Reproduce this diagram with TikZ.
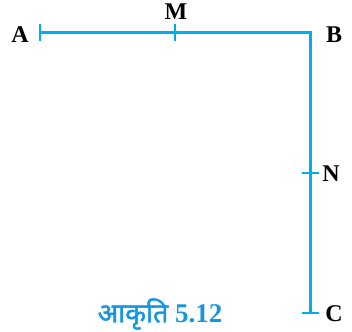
\documentclass[tikz,border=0pt]{standalone}
\usepackage{fontspec}
\setmainfont{Liberation Serif}
\newfontfamily\deva[Script=Devanagari,FakeBold=1.5]{Noto Sans}
\definecolor{lineblue}{RGB}{0,174,239}
\definecolor{capblue}{RGB}{20,150,225}
\begin{document}
\begin{tikzpicture}[x=1pt,y=-1pt,
  seg/.style={draw=lineblue,line width=3pt},
  tk/.style={draw=lineblue,line width=2.8pt},
  lbl/.style={font=\fontsize{24}{24}\selectfont\bfseries,inner sep=0pt}]
\useasboundingbox (0,0) rectangle (352,331);
\coordinate (A) at (40,33);
\coordinate (M) at (175,33);
\coordinate (B) at (310,33);
\coordinate (N) at (310,173);
\coordinate (C) at (310,313);
\draw[seg,line join=miter] (A) -- (B) -- (C);
\draw[tk] ([yshift=-8.5pt]A) -- ([yshift=8.5pt]A);
\draw[tk] ([yshift=-8.5pt]M) -- ([yshift=8.5pt]M);
\draw[tk] ([xshift=-8.5pt]N) -- ([xshift=8.5pt]N);
\draw[tk] ([xshift=-8.5pt]C) -- ([xshift=8.5pt]C);
\node[lbl] (la) at (20,35) {A};
\node[lbl] (lm) at (176,12) {M};
\node[lbl] (lb) at (334,35) {B};
\node[lbl] (ln) at (331,174) {N};
\node[lbl] (lc) at (334,314) {C};
\node[inner sep=0pt,text=capblue,font=\fontsize{27}{27}\selectfont\bfseries] (cap) at (160,314) {{\deva आकृति} 5.12};
\end{tikzpicture}
\end{document}
